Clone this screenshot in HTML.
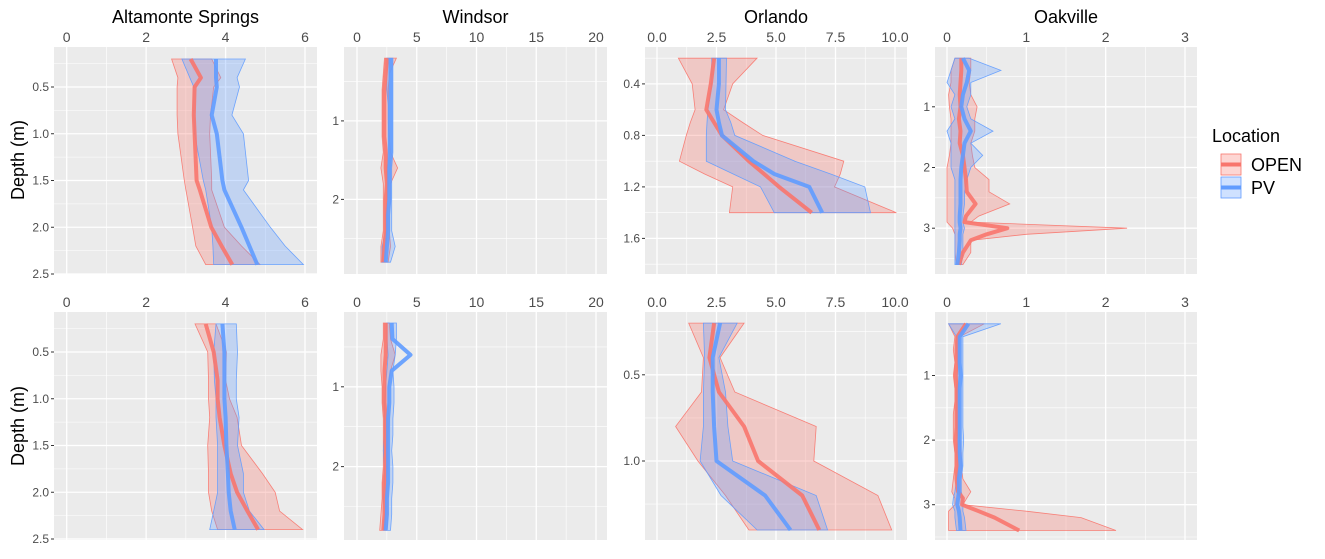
<!DOCTYPE html>
<html><head><meta charset="utf-8"><style>
html,body{margin:0;padding:0;background:#fff;}
svg{display:block;font-family:"Liberation Sans",sans-serif;}
</style></head><body>
<svg id="chart" width="1325" height="559" viewBox="0 0 1325 559" xmlns="http://www.w3.org/2000/svg"></svg>
<script>
// ---------- data ----------
const altR1Depth=[0.2,0.4,0.5,0.8,1.0,1.5,1.6,2.0,2.2,2.4];
const altR1OpenMean=[3.12,3.38,3.22,3.2,3.22,3.27,3.35,3.64,3.9,4.17];
const altR1OpenLo=[2.64,2.8,2.78,2.78,2.8,2.96,3.0,3.17,3.25,3.5];
const altR1OpenHi=[3.65,3.88,3.7,3.62,3.6,3.65,3.65,3.97,4.4,4.87];
const altR1PvMean=[3.76,3.76,3.78,3.65,3.78,3.92,3.97,4.4,4.6,4.8];
const altR1PvLo=[2.9,3.1,3.2,3.2,3.22,3.44,3.5,3.65,3.68,3.7];
const altR1PvHi=[4.5,4.29,4.35,4.16,4.45,4.58,4.45,5.13,5.5,5.96];

const winDepth=[0.2,0.4,0.6,0.8,1.0,1.2,1.4,1.6,1.8,2.0,2.2,2.4,2.6,2.8];
const winR1OpenMean=[2.5,2.4,2.3,2.3,2.3,2.3,2.4,2.4,2.5,2.4,2.4,2.4,2.3,2.2];
const winR1OpenLo=[2.3,2.2,2.1,2.1,2.1,2.1,2.2,2.0,2.2,2.2,2.2,2.2,2.0,2.0];
const winR1OpenHi=[3.3,2.7,2.6,2.6,2.6,2.7,2.8,3.4,2.8,2.8,2.7,2.7,2.8,2.6];
const winR1PvMean=[2.8,2.8,2.8,2.8,2.8,2.8,2.8,2.7,2.7,2.7,2.6,2.6,2.5,2.4];
const winR1PvLo=[2.5,2.5,2.5,2.6,2.6,2.6,2.6,2.5,2.5,2.5,2.4,2.4,2.1,2.1];
const winR1PvHi=[3.0,3.0,3.0,3.0,3.0,3.0,3.0,2.9,2.9,2.9,2.9,2.9,3.2,2.8];

const orlR1Depth=[0.2,0.4,0.6,0.7,0.8,1.0,1.1,1.2,1.4];
const orlR1OpenMean=[2.4,2.26,2.07,2.4,2.73,3.86,4.5,5.13,6.5];
const orlR1OpenLo=[0.9,1.48,1.6,1.4,1.23,0.94,2.0,3.18,3.04];
const orlR1OpenHi=[4.2,3.18,2.8,3.6,4.44,7.85,7.7,7.46,10.06];
const orlR1PvMean=[2.6,2.6,2.5,2.6,2.73,4.05,4.93,6.4,6.94];
const orlR1PvLo=[2.3,2.3,2.14,2.1,2.07,2.07,3.2,4.35,4.93];
const orlR1PvHi=[2.92,2.9,2.88,3.1,3.27,5.8,7.3,8.73,8.97];

const oakR1Depth=[0.2,0.4,0.6,0.8,1.0,1.2,1.4,1.6,1.8,2.0,2.2,2.4,2.6,2.8,2.9,3.0,3.1,3.2,3.4,3.6];
const oakR1OpenMean=[.18,.18,.17,.16,.17,.15,.17,.16,.2,.22,.24,.25,.36,.24,.22,.76,.5,.3,.2,.15];
const oakR1OpenLo=[.1,.05,.05,.02,.03,.05,.05,.05,.03,0,0,0,0,0,0,.07,.1,.1,.1,.12];
const oakR1OpenHi=[.3,.3,.28,.3,.38,.35,.35,.3,.32,.35,.53,.53,.79,.4,.3,2.27,1.0,.3,.3,.2];
const oakR1PvMean=[.2,.28,.25,.2,.18,.22,.3,.22,.2,.18,.17,.17,.17,.16,.16,.17,.16,.16,.15,.13];
const oakR1PvLo=[.1,.05,0,.1,.05,.1,0,.05,.05,.05,.1,.1,.1,.1,.1,.1,.1,.1,.1,.1];
const oakR1PvHi=[.28,.68,.3,.3,.25,.3,.58,.3,.45,.3,.25,.22,.22,.2,.2,.22,.2,.2,.2,.18];

const altR2Depth=[0.2,0.5,0.8,1.0,1.2,1.5,1.8,2.0,2.2,2.4];
const altR2OpenMean=[3.5,3.7,3.8,3.8,3.85,3.97,4.13,4.29,4.55,4.82];
const altR2OpenLo=[3.23,3.55,3.57,3.57,3.6,3.55,3.57,3.57,3.65,3.8];
const altR2OpenHi=[3.76,4.02,4.0,4.1,4.29,4.4,4.93,5.25,5.36,5.94];
const altR2PvMean=[3.92,3.97,3.97,3.97,4.0,4.02,4.06,4.08,4.13,4.23];
const altR2PvLo=[3.76,3.7,3.72,3.76,3.76,3.8,3.8,3.8,3.7,3.6];
const altR2PvHi=[4.27,4.3,4.27,4.27,4.34,4.3,4.45,4.45,4.6,4.97];

const winR2OpenMean=[2.4,2.4,2.4,2.3,2.3,2.3,2.4,2.4,2.4,2.4,2.3,2.3,2.3,2.2];
const winR2OpenLo=[2.2,2.2,2.0,2.0,2.1,2.1,2.2,2.2,2.2,2.2,2.1,2.1,2.0,1.9];
const winR2OpenHi=[2.7,2.8,3.2,2.8,2.6,2.6,2.7,2.6,2.6,2.6,2.6,2.6,2.6,2.5];
const winR2PvMean=[2.9,2.96,4.48,2.9,2.7,2.7,2.6,2.6,2.6,2.6,2.6,2.5,2.5,2.4];
const winR2PvLo=[2.5,2.5,2.6,2.5,2.4,2.3,2.3,2.3,2.2,2.3,2.3,2.2,2.3,2.2];
const winR2PvHi=[3.3,3.3,3.2,3.0,3.1,3.1,3.0,3.0,2.9,3.0,3.0,2.9,2.9,2.8];

const orlR2Depth=[0.2,0.4,0.6,0.8,1.0,1.2,1.4];
const orlR2OpenMean=[2.4,2.2,2.6,3.66,4.25,6.1,6.82];
const orlR2OpenLo=[1.33,1.95,1.87,0.78,1.72,2.88,3.86];
const orlR2OpenHi=[3.66,2.65,3.27,6.69,6.59,9.28,9.86];
const orlR2PvMean=[2.65,2.34,2.34,2.4,2.5,4.54,5.61];
const orlR2PvLo=[1.95,2.0,1.95,1.95,1.81,2.69,4.21];
const orlR2PvHi=[3.37,2.6,2.88,2.98,3.18,6.69,7.17];

const oakR2Depth=[0.2,0.4,0.6,0.8,1.0,1.2,1.4,1.6,1.8,2.0,2.2,2.4,2.6,2.8,2.9,3.0,3.1,3.2,3.4];
const oakR2OpenMean=[.24,.13,.12,.12,.11,.12,.12,.12,.12,.11,.12,.12,.12,.14,.2,.19,.4,.6,.91];
const oakR2OpenLo=[.02,.1,.08,.1,.08,.1,.1,.08,.08,.08,.1,.1,.08,.06,.1,.1,.02,.02,.02];
const oakR2OpenHi=[.47,.16,.16,.16,.15,.15,.16,.16,.16,.16,.18,.18,.2,.3,.25,.2,1.0,1.69,2.13];
const oakR2PvMean=[.27,.16,.16,.16,.17,.16,.16,.16,.16,.16,.16,.17,.15,.15,.14,.13,.15,.16,.17];
const oakR2PvLo=[.02,.12,.12,.13,.13,.12,.12,.12,.12,.13,.12,.13,.12,.1,.08,.07,.1,.1,.12];
const oakR2PvHi=[.68,.2,.2,.2,.2,.2,.2,.2,.2,.21,.2,.2,.18,.18,.2,.2,.2,.22,.24];

const titles=["Altamonte Springs","Windsor","Orlando","Oakville"];
const xTicksAlt=[0,2,4,6], xTicksWin=[0,5,10,15,20], xTicksOrl=[0,2.5,5,7.5,10], xTicksOak=[0,1,2,3];
const yTicksAlt=[0.5,1.0,1.5,2.0,2.5], yTicksWin=[1,2], yTicksOrlR1=[0.4,0.8,1.2,1.6], yTicksOrlR2=[0.5,1.0], yTicksOak=[1,2,3];

// ---------- layout ----------
const cols=[
 {x0:54,x1:317,v0:0,p0:66.7,v1:6,p1:305,ticks:xTicksAlt,fmt:v=>String(v),minor:1},
 {x0:344,x1:607,v0:0,p0:357,v1:20,p1:596,ticks:xTicksWin,fmt:v=>String(v),minor:2.5},
 {x0:645,x1:907,v0:0,p0:657,v1:10,p1:895,ticks:xTicksOrl,fmt:v=>v.toFixed(1),minor:1.25},
 {x0:935,x1:1197,v0:0,p0:947,v1:3,p1:1185,ticks:xTicksOak,fmt:v=>String(v),minor:0.5}
];
const rows=[{y0:47,y1:274,labY:42},{y0:312,y1:540,labY:307}];
const panels=[
 {r:0,c:0,d:[0.5,87,2.5,274],yt:yTicksAlt,fmt:v=>v.toFixed(1),step:0.5,depth:altR1Depth,om:altR1OpenMean,ol:altR1OpenLo,oh:altR1OpenHi,pm:altR1PvMean,pl:altR1PvLo,ph:altR1PvHi},
 {r:0,c:1,d:[1,120.9,2,199.4],yt:yTicksWin,fmt:v=>String(v),step:1,depth:winDepth,om:winR1OpenMean,ol:winR1OpenLo,oh:winR1OpenHi,pm:winR1PvMean,pl:winR1PvLo,ph:winR1PvHi},
 {r:0,c:2,d:[0.4,83.9,1.2,186.9],yt:yTicksOrlR1,fmt:v=>v.toFixed(1),step:0.4,depth:orlR1Depth,om:orlR1OpenMean,ol:orlR1OpenLo,oh:orlR1OpenHi,pm:orlR1PvMean,pl:orlR1PvLo,ph:orlR1PvHi},
 {r:0,c:3,d:[1,106.8,3,228.2],yt:yTicksOak,fmt:v=>String(v),step:1,depth:oakR1Depth,om:oakR1OpenMean,ol:oakR1OpenLo,oh:oakR1OpenHi,pm:oakR1PvMean,pl:oakR1PvLo,ph:oakR1PvHi},
 {r:1,c:0,d:[0.5,352,2.5,539],yt:yTicksAlt,fmt:v=>v.toFixed(1),step:0.5,depth:altR2Depth,om:altR2OpenMean,ol:altR2OpenLo,oh:altR2OpenHi,pm:altR2PvMean,pl:altR2PvLo,ph:altR2PvHi},
 {r:1,c:1,d:[1,386.8,2,466.6],yt:yTicksWin,fmt:v=>String(v),step:1,depth:winDepth,om:winR2OpenMean,ol:winR2OpenLo,oh:winR2OpenHi,pm:winR2PvMean,pl:winR2PvLo,ph:winR2PvHi},
 {r:1,c:2,d:[0.5,374.8,1.0,461],yt:yTicksOrlR2,fmt:v=>v.toFixed(1),step:0.5,depth:orlR2Depth,om:orlR2OpenMean,ol:orlR2OpenLo,oh:orlR2OpenHi,pm:orlR2PvMean,pl:orlR2PvLo,ph:orlR2PvHi},
 {r:1,c:3,d:[1,375.5,3,504.7],yt:yTicksOak,fmt:v=>String(v),step:1,depth:oakR2Depth,om:oakR2OpenMean,ol:oakR2OpenLo,oh:oakR2OpenHi,pm:oakR2PvMean,pl:oakR2PvLo,ph:oakR2PvHi}
];
const OPEN="#F8766D", PV="#619CFF";
const NS="http://www.w3.org/2000/svg";
const svg=document.getElementById('chart');
function mk(tag,attrs,parent){const e=document.createElementNS(NS,tag);for(const k in attrs)e.setAttribute(k,attrs[k]);(parent||svg).appendChild(e);return e;}

titles.forEach((t,i)=>{
 const c=cols[i];
 const e=mk('text',{x:(c.x0+c.x1)/2,y:23,'text-anchor':'middle','font-size':18,fill:'#000'});
 e.textContent=t;
 
 
});

panels.forEach((p,idx)=>{
 const c=cols[p.c], r=rows[p.r];
 const g=mk('g',{});
 
 
 const sx=v=>c.p0+(v-c.v0)*(c.p1-c.p0)/(c.v1-c.v0);
 const sy=d=>p.d[1]+(d-p.d[0])*(p.d[3]-p.d[1])/(p.d[2]-p.d[0]);
 const iy=y=>p.d[0]+(y-p.d[1])*(p.d[2]-p.d[0])/(p.d[3]-p.d[1]);
 const bg=mk('rect',{x:c.x0,y:r.y0,width:c.x1-c.x0,height:r.y1-r.y0,fill:'#EBEBEB'},g);
 
 
 const dTop=iy(r.y0), dBot=iy(r.y1), half=p.step/2;
 for(let k=Math.ceil(dTop/half-1e-6);k*half<=dBot+1e-6;k++){
  const y=sy(k*half); const major=(k%2===0);
  const l=mk('line',{x1:c.x0,x2:c.x1,y1:y,y2:y,stroke:'#fff','stroke-width':major?1.3:0.6},g);
  
  
 }
 const vL=c.v0+(c.x0-c.p0)*(c.v1-c.v0)/(c.p1-c.p0), vR=c.v0+(c.x1-c.p0)*(c.v1-c.v0)/(c.p1-c.p0);
 for(let k=Math.ceil(vL/c.minor-1e-6);k*c.minor<=vR+1e-6;k++){
  const x=sx(k*c.minor); const major=(k%2===0);
  const l=mk('line',{x1:x,x2:x,y1:r.y0,y2:r.y1,stroke:'#fff','stroke-width':major?1.3:0.6},g);
  
  
 }
 function ribbon(lo,hi,col,name){
  let pts=[];
  p.depth.forEach((d,i)=>pts.push(sx(hi[i]).toFixed(1)+','+sy(d).toFixed(1)));
  for(let i=p.depth.length-1;i>=0;i--)pts.push(sx(lo[i]).toFixed(1)+','+sy(p.depth[i]).toFixed(1));
  const e=mk('polygon',{points:pts.join(' '),fill:col,'fill-opacity':0.3,stroke:col,'stroke-width':0.8,'stroke-opacity':0.9},g);
  
  
 }
 function line(m,col,name){
  const pts=p.depth.map((d,i)=>sx(m[i]).toFixed(1)+','+sy(d).toFixed(1)).join(' ');
  const e=mk('polyline',{points:pts,fill:'none',stroke:col,'stroke-width':4,'stroke-opacity':0.9,'stroke-linejoin':'round'},g);
  
  
 }
 ribbon(p.ol,p.oh,OPEN,'open-ribbon');
 ribbon(p.pl,p.ph,PV,'pv-ribbon');
 line(p.om,OPEN,'open-mean-line');
 line(p.pm,PV,'pv-mean-line');
 c.ticks.forEach(v=>{
  const t=mk('text',{x:sx(v),y:r.labY,'text-anchor':'middle','font-size':14,fill:'#4D4D4D'},g);
  t.textContent=c.fmt(v);
  
  
 });
 p.yt.forEach(v=>{
  const y=sy(v);
  const tk=mk('line',{x1:c.x0-3,x2:c.x0,y1:y,y2:y,stroke:'#333','stroke-width':1},g);
  
  
  const t=mk('text',{x:c.x0-5,y:y+4,'text-anchor':'end','font-size':12,fill:'#4D4D4D'},g);
  t.textContent=p.fmt(v);
  
  
 });
});

[160,426].forEach((cy,i)=>{
 const t=mk('text',{x:0,y:0,'text-anchor':'middle','font-size':18,fill:'#000',transform:'translate(24,'+cy+') rotate(-90)'});
 t.textContent='Depth (m)';
 
 
});

const lg=mk('g',{});


const lt=mk('text',{x:1212,y:142,'font-size':18,fill:'#000'},lg);
lt.textContent='Location';


[['OPEN',OPEN,154],['PV',PV,177]].forEach(([lab,col,y])=>{
 const k=mk('g',{},lg);
 
 
 mk('rect',{x:1221,y:y,width:20,height:21,fill:'#fff'},k);
 mk('rect',{x:1221,y:y,width:20,height:21,fill:col,'fill-opacity':0.3,stroke:col,'stroke-width':0.8},k);
 mk('line',{x1:1221,x2:1241,y1:y+10.5,y2:y+10.5,stroke:col,'stroke-width':4},k);
 const t=mk('text',{x:1251,y:y+17,'font-size':18,fill:'#000'},k);
 t.textContent=lab;
});
</script>
</body></html>
